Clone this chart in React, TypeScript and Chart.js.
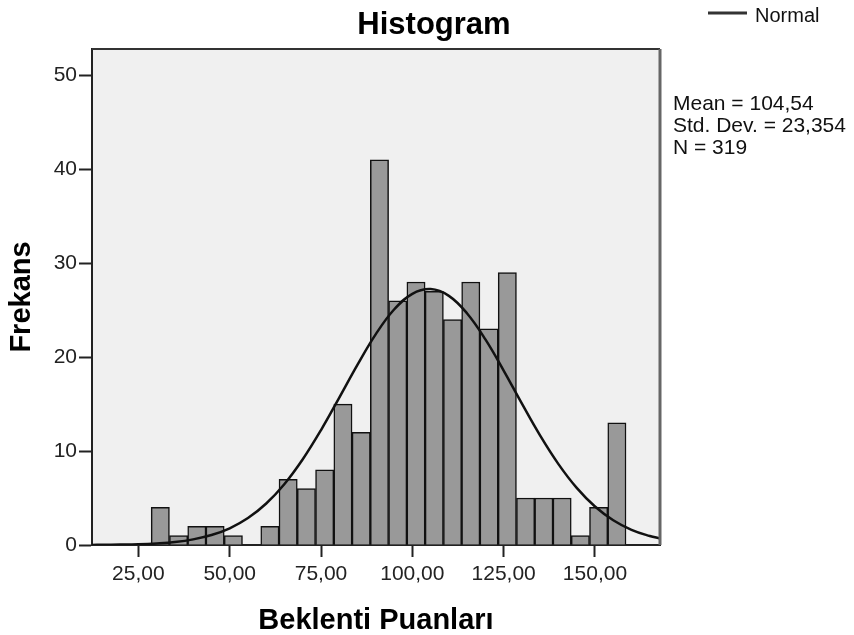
import React, { useEffect, useRef } from "react";
import { Chart, registerables } from "chart.js";

Chart.register(...registerables);

// Histogram bins (centers) and frequencies
const binCenters = [31, 36, 41, 46, 51, 56, 61, 66, 71, 76, 81, 86, 91, 96, 101, 106, 111, 116, 121, 126, 131, 136, 141, 146, 151, 156];
const frequencies = [4, 1, 2, 2, 1, 0, 2, 7, 6, 8, 15, 12, 41, 26, 28, 27, 24, 28, 23, 29, 5, 5, 5, 1, 4, 13];

// Normal curve points
const curveX = [12.3, 15, 20, 25, 30, 35, 40, 45, 50, 55, 60, 65, 70, 75, 80, 85, 90, 95, 100, 105, 110, 115, 120, 125, 130, 135, 140, 145, 150, 155, 160, 165, 167.8];
const curveY = [0.01, 0.02, 0.04, 0.08, 0.17, 0.32, 0.6, 1.06, 1.78, 2.87, 4.42, 6.5, 9.13, 12.24, 15.69, 19.2, 22.45, 25.07, 26.74, 27.24, 26.52, 24.65, 21.89, 18.57, 15.04, 11.64, 8.61, 6.08, 4.1, 2.64, 1.62, 0.96, 0.7];

const xTickValues = [25, 50, 75, 100, 125, 150];
const xTickLabels = ["25,00", "50,00", "75,00", "100,00", "125,00", "150,00"];
const yTickValues = [0, 10, 20, 30, 40, 50];
const yTickLabels = ["0", "10", "20", "30", "40", "50"];

const titleText = "Histogram";
const xTitle = "Beklenti Puanları";
const yTitle = "Frekans";
const legendLabel = "Normal";
const statsLines = ["Mean = 104,54", "Std. Dev. = 23,354", "N = 319"];

const FONT = "'Liberation Sans', Arial, sans-serif";

const decorPlugin = {
  id: "decor",
  beforeDraw(chart: any) {
    const { ctx, chartArea } = chart;
    ctx.save();
    ctx.fillStyle = "#ffffff";
    ctx.fillRect(0, 0, chart.width, chart.height);
    ctx.fillStyle = "#f0f0f0";
    ctx.fillRect(chartArea.left, chartArea.top, chartArea.right - chartArea.left, chartArea.bottom - chartArea.top);
    ctx.restore();
  },
  afterDraw(chart: any) {
    const { ctx, chartArea } = chart;
    ctx.save();
    // frame top & right
    ctx.strokeStyle = "#333333";
    ctx.lineWidth = 2;
    ctx.beginPath();
    ctx.moveTo(chartArea.left, chartArea.top);
    ctx.lineTo(chartArea.right, chartArea.top);
    ctx.stroke();
    ctx.strokeStyle = "#666666";
    ctx.lineWidth = 3;
    ctx.beginPath();
    ctx.moveTo(chartArea.right, chartArea.top);
    ctx.lineTo(chartArea.right, chartArea.bottom);
    ctx.stroke();

    ctx.fillStyle = "#000000";
    // title
    ctx.font = `bold 31px ${FONT}`;
    ctx.textAlign = "center";
    ctx.textBaseline = "alphabetic";
    ctx.fillText(titleText, 434, 34);
    // x title
    ctx.font = `bold 29px ${FONT}`;
    ctx.fillText(xTitle, (chartArea.left + chartArea.right) / 2, 629);
    // y title
    ctx.save();
    ctx.translate(30, 297);
    ctx.rotate(-Math.PI / 2);
    ctx.fillText(yTitle, 0, 0);
    ctx.restore();
    // legend
    ctx.strokeStyle = "#333333";
    ctx.lineWidth = 3;
    ctx.beginPath();
    ctx.moveTo(708, 13);
    ctx.lineTo(747, 13);
    ctx.stroke();
    ctx.font = `20px ${FONT}`;
    ctx.textAlign = "left";
    ctx.fillStyle = "#111111";
    ctx.fillText(legendLabel, 755, 22);
    // stats
    ctx.font = `21px ${FONT}`;
    statsLines.forEach((s, i) => ctx.fillText(s, 673, 110 + i * 22));
    ctx.restore();
  },
};

export default function App() {
  const ref = useRef<HTMLCanvasElement>(null);
  useEffect(() => {
    const canvas = ref.current;
    if (!canvas) return;
    const chart = new Chart(canvas, {
      type: "bar",
      data: {
        datasets: [
          {
            type: "line",
            data: curveX.map((x, i) => ({ x, y: curveY[i] })),
            borderColor: "#111111",
            borderWidth: 2.5,
            pointRadius: 0,
            tension: 0.4,
            fill: false,
            order: 0,
          } as any,
          {
            type: "bar",
            data: binCenters.map((x, i) => ({ x, y: frequencies[i] })),
            backgroundColor: "#999999",
            borderColor: "#111111",
            borderWidth: 1.5,
            barPercentage: 1,
            categoryPercentage: 1,
            order: 1,
          } as any,
        ],
      },
      options: {
        animation: false,
        responsive: false,
        devicePixelRatio: 1,
        layout: { padding: { top: 49, right: 194, bottom: 0, left: 0 } },
        plugins: { legend: { display: false }, tooltip: { enabled: false }, title: { display: false } },
        scales: {
          x: {
            type: "linear",
            min: 12.3,
            max: 167.8,
            offset: false,
            afterBuildTicks: (s: any) => {
              s.ticks = xTickValues.map((v) => ({ value: v }));
            },
            afterFit: (s: any) => {
              s.height = 90;
            },
            ticks: {
              autoSkip: false,
              maxRotation: 0,
              padding: 5,
              color: "#222222",
              font: { family: FONT, size: 21 },
              callback: (_v: any, i: number) => xTickLabels[i],
            },
            grid: { offset: false, drawOnChartArea: false, drawTicks: true, tickLength: 12, tickColor: "#222222", tickWidth: 2 },
            border: { display: true, color: "#222222", width: 2 },
          },
          y: {
            type: "linear",
            min: 0,
            max: 52.8,
            afterBuildTicks: (s: any) => {
              s.ticks = yTickValues.map((v) => ({ value: v }));
            },
            afterFit: (s: any) => {
              s.width = 92;
            },
            ticks: {
              padding: 2,
              color: "#222222",
              font: { family: FONT, size: 21 },
              callback: (_v: any, i: number) => yTickLabels[i],
            },
            grid: { drawOnChartArea: false, drawTicks: true, tickLength: 13, tickColor: "#222222", tickWidth: 2 },
            border: { display: true, color: "#222222", width: 2 },
          },
        },
      },
      plugins: [decorPlugin],
    } as any);
    return () => chart.destroy();
  }, []);
  return (
    <div style={{ position: "absolute", left: 0, top: 0, width: 854, height: 635 }}>
      <canvas ref={ref} width={854} height={635} style={{ width: 854, height: 635, display: "block" }} />
    </div>
  );
}
